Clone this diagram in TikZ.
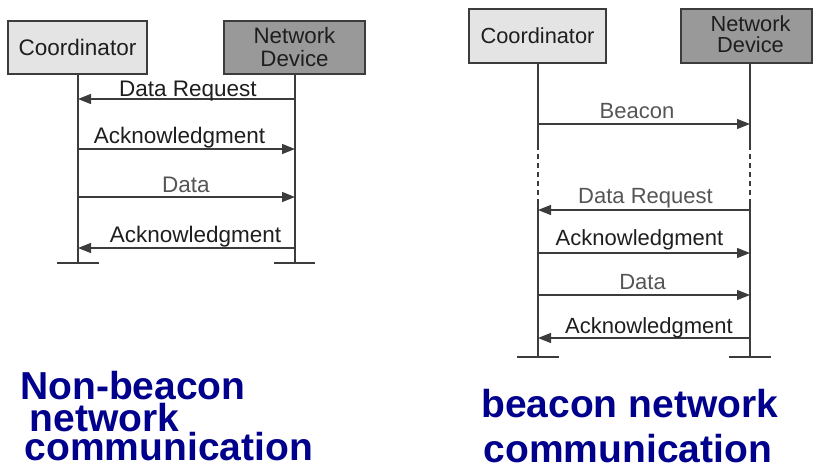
\documentclass[tikz,border=0pt]{standalone}
\usepackage{fontspec}
\setmainfont{Liberation Sans}
\usetikzlibrary{arrows.meta}
\definecolor{boxlight}{HTML}{E4E4E4}
\definecolor{boxdark}{HTML}{999999}
\definecolor{linegray}{HTML}{3C3C3C}
\definecolor{lbldark}{HTML}{1E1E1E}
\definecolor{lblgray}{HTML}{555555}
\definecolor{titleblue}{HTML}{00008C}
\begin{document}
\begin{tikzpicture}[x=1pt,y=-1pt,
  actor/.style={draw=linegray, line width=1.2pt, inner sep=0pt, align=center, text=lbldark},
  actortext/.style={inner sep=0pt, align=center, text=lbldark},
  life/.style={draw=linegray, line width=1.2pt},
  msg/.style={draw=linegray, line width=1.2pt, -{Triangle[length=13pt,width=10pt]}},
  lblL/.style={anchor=base, font=\fontsize{22.5}{23}\selectfont, inner sep=0pt, text=lbldark},
  lblR/.style={anchor=base, font=\fontsize{22}{23}\selectfont, inner sep=0pt, text=lbldark},
  grey/.style={text=lblgray},
  title/.style={anchor=base west, font=\fontsize{39}{40}\selectfont\bfseries, text=titleblue,
                inner sep=0pt, text height=20pt, text depth=3pt}
]
\useasboundingbox (0,0) rectangle (813,471);

% ---------- left: non-beacon ----------
\coordinate (cLb) at (78,263);
\coordinate (dLb) at (295,263);
\draw[life] (78,74) -- (cLb);
\draw[life] (295,74) -- (dLb);
\node[actor, fill=boxlight, minimum width=139pt, minimum height=53pt,
      font=\fontsize{22.5}{23}\selectfont] (coordL) at (77.5,47.5) {Coordinator};
\node[actor, fill=boxdark, minimum width=141pt, minimum height=53pt,
      font=\fontsize{22.3}{23}\selectfont] (devL) at (294.5,47.5) {Network\\Device};
\draw[life] ([xshift=-21pt]cLb) -- ([xshift=21pt]cLb);
\draw[life] ([xshift=-21pt]dLb) -- ([xshift=20pt]dLb);

\draw[msg] (dLb |- 0,99) -- (cLb |- 0,99);
\draw[msg] (cLb |- 0,149) -- (dLb |- 0,149);
\draw[msg] (cLb |- 0,197) -- (dLb |- 0,197);
\draw[msg] (dLb |- 0,248) -- (cLb |- 0,248);
\node[lblL] (l1) at (188,96) {Data Request};
\node[lblL] (l2) at (179.5,143) {Acknowledgment};
\node[lblL, grey] (l3) at (186,192) {Data};
\node[lblL] (l4) at (195.5,242) {Acknowledgment};

% ---------- right: beacon ----------
\coordinate (cRb) at (538,357);
\coordinate (dRb) at (750,357);
\coordinate (cRd1) at (538,145);
\coordinate (cRd2) at (538,200);
\coordinate (dRd1) at (750,145);
\coordinate (dRd2) at (750,200);
\draw[life] (538,63) -- (cRd1);
\draw[life, dash pattern=on 5pt off 4pt] (cRd1) -- (cRd2);
\draw[life] (cRd2) -- (cRb);
\draw[life] (750,63) -- (dRd1);
\draw[life, dash pattern=on 5pt off 4pt] (dRd1) -- (dRd2);
\draw[life] (dRd2) -- (dRb);
\node[actor, fill=boxlight, minimum width=137pt, minimum height=54pt,
      font=\fontsize{21.8}{22}\selectfont] (coordR) at (537.5,36) {Coordinator};
\node[actor, fill=boxdark, minimum width=131pt, minimum height=54pt] (devR) at (746.5,36) {};
\node[actortext, font=\fontsize{21.8}{21}\selectfont] (devRt) at (750.5,34.5) {Network\\Device};
\draw[life] ([xshift=-21pt]cRb) -- ([xshift=21pt]cRb);
\draw[life] ([xshift=-21pt]dRb) -- ([xshift=21pt]dRb);

\draw[msg] (cRb |- 0,124) -- (dRb |- 0,124);
\draw[msg] (dRb |- 0,210) -- (cRb |- 0,210);
\draw[msg] (cRb |- 0,253) -- (dRb |- 0,253);
\draw[msg] (cRb |- 0,295) -- (dRb |- 0,295);
\draw[msg] (dRb |- 0,338) -- (cRb |- 0,338);
\node[lblR, grey] (r1) at (637,118) {Beacon};
\node[lblR, grey] (r2) at (645.5,203) {Data Request};
\node[lblR] (r3) at (639.5,245) {Acknowledgment};
\node[lblR, grey] (r4) at (642.5,289) {Data};
\node[lblR] (r5) at (649,333) {Acknowledgment};

% ---------- titles ----------
\node[title] (t1) at (20,399) {Non-beacon};
\node[title] (t2) at (29.5,431) {network};
\node[title] (t3) at (24.5,460) {communication};
\node[title] (t4) at (481,417) {beacon network};
\node[title] (t5) at (483.5,462) {communication};
\end{tikzpicture}
\end{document}
